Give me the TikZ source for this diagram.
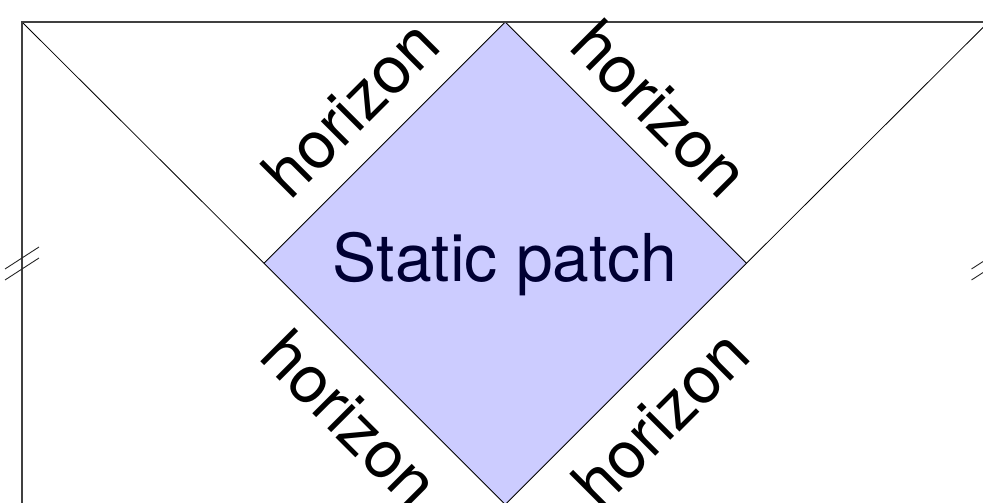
\documentclass[tikz,border=0pt]{standalone}
\usepackage{fontspec}
\setmainfont{TeX Gyre Heros}
\definecolor{patchfill}{RGB}{204,204,255}
\definecolor{patchtext}{RGB}{0,0,51}
\begin{document}
\begin{tikzpicture}[x=1pt,y=1pt,
  frameline/.style={line width=1.3pt, draw=black!75},
  diag/.style={line width=0.8pt, draw=black},
  slash/.style={line width=0.9pt, draw=black!85},
  hlabel/.style={font=\fontsize{66}{79}\selectfont, inner sep=24pt, outer sep=0pt, sloped},
]
\useasboundingbox (0,0) rectangle (983,503);
\clip (0,0) rectangle (983,503);
% corners
\coordinate (TL) at (22,481);
\coordinate (TR) at (988.5,481);
\coordinate (BL) at (22,-500);
\coordinate (BR) at (988.5,-500);
% diamond
\coordinate (T) at (505.25,481);
\coordinate (L) at (264,239.75);
\coordinate (R) at (746.5,239.75);
\coordinate (B) at (505.25,-1.5);
\fill[patchfill] (T) -- (R) -- (B) -- (L) -- cycle;
% diagonals
\draw[diag] (TL) -- (L);
\draw[diag] (L) -- (B);
\draw[diag] (TR) -- (R);
\draw[diag] (R) -- (B);
\draw[diag] (L) -- (T);
\draw[diag] (T) -- (R);
% frame
\draw[frameline] (BL) -- (TL) -- (TR) -- (BR);
% break marks
\coordinate (s1a) at (5,234);   \coordinate (s1b) at (39,256);
\coordinate (s2a) at (5,223);   \coordinate (s2b) at (39,245);
\coordinate (s3a) at (971.5,234); \coordinate (s3b) at (1005.5,256);
\coordinate (s4a) at (971.5,223); \coordinate (s4b) at (1005.5,245);
\draw[slash] (s1a) -- (s1b);
\draw[slash] (s2a) -- (s2b);
\draw[slash] (s3a) -- (s3b);
\draw[slash] (s4a) -- (s4b);
% labels
\path (L) -- (T) node[hlabel, midway, above] (h1) {horizon};
\path (T) -- (R) node[hlabel, midway, above] (h2) {horizon};
\path (L) -- (B) node[hlabel, midway, below] (h3) {horizon};
\path (B) -- (R) node[hlabel, midway, below] (h4) {horizon};
\node[font=\fontsize{66}{79}\selectfont, text=patchtext, anchor=base, inner sep=0pt] (sp) at (505.25,221) {Static patch};
\end{tikzpicture}
\end{document}
